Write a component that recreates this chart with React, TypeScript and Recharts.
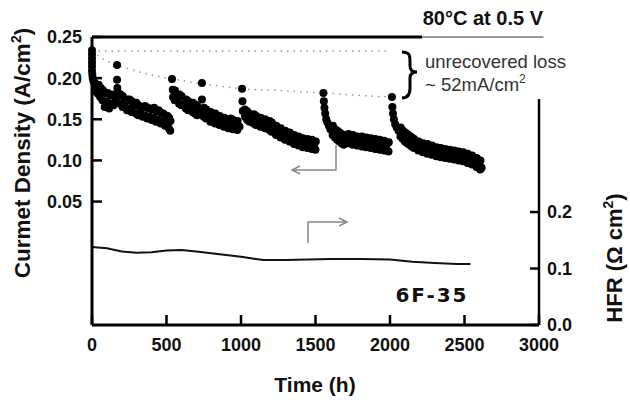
import {
  ComposedChart, Scatter, Line, XAxis, YAxis, ReferenceLine,
} from 'recharts'

// current density (A/cm2) vs time (h), one array per run between recoveries
const seg1: [number, number][] = [
  [0, 0.234], [0, 0.229], [0, 0.224], [0, 0.219], [0, 0.214], [0, 0.209], [2, 0.204], [5, 0.2],
  [10, 0.196], [18, 0.194], [22, 0.184], [32, 0.19], [40, 0.181], [45, 0.192], [55, 0.177], [60, 0.188],
  [70, 0.173], [75, 0.185], [85, 0.165], [90, 0.182], [100, 0.171], [105, 0.182], [115, 0.163], [120, 0.179],
  [130, 0.169], [135, 0.18], [145, 0.167], [150, 0.178], [160, 0.174],
]
const seg2: [number, number][] = [
  [168, 0.216], [168, 0.198], [170, 0.188], [175, 0.182], [190, 0.169], [192, 0.18], [205, 0.165], [207, 0.178],
  [220, 0.17], [235, 0.161], [237, 0.174], [250, 0.163], [252, 0.174], [265, 0.159], [267, 0.172], [280, 0.166],
  [295, 0.157], [297, 0.17], [310, 0.155], [312, 0.167], [325, 0.162], [340, 0.153], [342, 0.165], [355, 0.155],
  [357, 0.166], [370, 0.151], [372, 0.164], [385, 0.153], [387, 0.163], [400, 0.149], [402, 0.162], [415, 0.152],
  [417, 0.164], [430, 0.147], [432, 0.16], [445, 0.149], [447, 0.161], [460, 0.145], [462, 0.158], [475, 0.147],
  [477, 0.157], [490, 0.142], [492, 0.155], [505, 0.144], [507, 0.154], [515, 0.139], [517, 0.152], [525, 0.136],
  [527, 0.148],
]
const seg3: [number, number][] = [
  [537, 0.199], [542, 0.186], [544, 0.177], [555, 0.173], [557, 0.185], [570, 0.178], [585, 0.169], [587, 0.18],
  [600, 0.167], [602, 0.178], [615, 0.168], [630, 0.163], [632, 0.174], [645, 0.161], [647, 0.172], [660, 0.166],
  [675, 0.159], [677, 0.17], [690, 0.157], [692, 0.168], [705, 0.155], [707, 0.166], [720, 0.16], [738, 0.194],
  [738, 0.174], [740, 0.162], [750, 0.153], [752, 0.164], [765, 0.151], [767, 0.162], [780, 0.156], [795, 0.147],
  [797, 0.159], [810, 0.152], [825, 0.145], [827, 0.157], [840, 0.15], [855, 0.143], [857, 0.154], [870, 0.148],
  [885, 0.141], [887, 0.152], [900, 0.146], [915, 0.139], [917, 0.15], [930, 0.141], [932, 0.151], [945, 0.138],
  [947, 0.149], [960, 0.143], [975, 0.137], [977, 0.148], [990, 0.141],
]
const seg4: [number, number][] = [
  [1007, 0.187], [1010, 0.172], [1012, 0.16], [1025, 0.162], [1027, 0.153], [1040, 0.16], [1042, 0.149],
  [1055, 0.157], [1057, 0.147], [1070, 0.153], [1085, 0.145], [1087, 0.156], [1100, 0.143], [1102, 0.154],
  [1115, 0.15], [1130, 0.141], [1132, 0.152], [1145, 0.146], [1160, 0.139], [1162, 0.15], [1175, 0.144],
  [1190, 0.137], [1192, 0.148], [1205, 0.135], [1207, 0.146], [1220, 0.14], [1235, 0.131], [1237, 0.142],
  [1250, 0.136], [1265, 0.128], [1267, 0.139], [1280, 0.133], [1295, 0.125], [1297, 0.136], [1310, 0.13],
  [1325, 0.123], [1327, 0.134], [1340, 0.128], [1355, 0.12], [1357, 0.131], [1370, 0.125], [1385, 0.118],
  [1387, 0.129], [1400, 0.123], [1415, 0.116], [1417, 0.127], [1430, 0.121], [1445, 0.115], [1447, 0.126],
  [1460, 0.12], [1475, 0.114], [1477, 0.125], [1490, 0.119], [1500, 0.113], [1502, 0.123],
]
const seg5: [number, number][] = [
  [1553, 0.182], [1556, 0.172], [1560, 0.164], [1565, 0.157], [1572, 0.15], [1580, 0.146], [1590, 0.142],
  [1600, 0.138], [1615, 0.131], [1617, 0.142], [1630, 0.128], [1632, 0.138], [1645, 0.125], [1647, 0.136],
  [1660, 0.123], [1662, 0.134], [1675, 0.121], [1677, 0.132], [1690, 0.119], [1692, 0.13], [1705, 0.125],
  [1720, 0.121], [1722, 0.132], [1735, 0.126], [1750, 0.119], [1752, 0.131], [1765, 0.125], [1780, 0.118],
  [1782, 0.129], [1795, 0.124], [1810, 0.117], [1812, 0.129], [1825, 0.123], [1840, 0.116], [1842, 0.128],
  [1855, 0.122], [1870, 0.115], [1872, 0.127], [1885, 0.121], [1900, 0.114], [1902, 0.126], [1915, 0.12],
  [1930, 0.113], [1932, 0.125], [1945, 0.119], [1960, 0.112], [1962, 0.124], [1975, 0.118], [1990, 0.111],
  [1992, 0.122],
]
const seg6: [number, number][] = [
  [2013, 0.177], [2016, 0.165], [2020, 0.157], [2026, 0.15], [2035, 0.144], [2045, 0.14], [2058, 0.136],
  [2070, 0.129], [2072, 0.14], [2085, 0.126], [2087, 0.136], [2100, 0.123], [2102, 0.134], [2115, 0.121],
  [2117, 0.132], [2130, 0.119], [2132, 0.13], [2145, 0.117], [2147, 0.128], [2160, 0.115], [2162, 0.126],
  [2175, 0.12], [2190, 0.112], [2192, 0.123], [2205, 0.117], [2220, 0.11], [2222, 0.121], [2235, 0.115],
  [2250, 0.108], [2252, 0.12], [2265, 0.114], [2280, 0.107], [2282, 0.118], [2295, 0.112], [2310, 0.105],
  [2312, 0.116], [2325, 0.111], [2340, 0.104], [2342, 0.115], [2355, 0.11], [2370, 0.103], [2372, 0.114],
  [2385, 0.109], [2400, 0.102], [2402, 0.113], [2415, 0.108], [2430, 0.101], [2432, 0.112], [2445, 0.107],
  [2460, 0.1], [2462, 0.111], [2475, 0.106], [2490, 0.099], [2492, 0.11], [2505, 0.105], [2520, 0.097],
  [2522, 0.108], [2535, 0.103], [2550, 0.095], [2552, 0.106], [2565, 0.1], [2580, 0.092], [2582, 0.103],
  [2595, 0.097], [2605, 0.089], [2607, 0.1], [2615, 0.091],
]

// HFR (ohm cm2) vs time
const hfr: [number, number][] = [
  [0, 0.138], [100, 0.136], [200, 0.13], [300, 0.128], [400, 0.129], [500, 0.132], [600, 0.133],
  [700, 0.13], [800, 0.127], [900, 0.124], [1000, 0.121], [1100, 0.117], [1150, 0.115], [1300, 0.115],
  [1450, 0.116], [1600, 0.117], [1800, 0.117], [2000, 0.116], [2150, 0.112], [2300, 0.11], [2450, 0.108],
  [2540, 0.108],
]

// dotted guides: initial level and recovered peaks
const initialLevel: [number, number][] = [[0, 0.233], [2000, 0.233]]
const recoveredPeaks: [number, number][] = [
  [0, 0.233], [50, 0.226], [100, 0.221], [168, 0.216], [250, 0.211], [350, 0.206], [450, 0.202],
  [537, 0.199], [640, 0.196], [738, 0.193], [870, 0.19], [1007, 0.187], [1250, 0.185], [1557, 0.182],
  [1800, 0.179], [2013, 0.177],
]

const timeTicks = [0, 500, 1000, 1500, 2000, 2500, 3000]
const currentTicks = [0.05, 0.1, 0.15, 0.2, 0.25]
const hfrTicks = [0, 0.1, 0.2]

const pts = (arr: [number, number][]) => arr.map(([t, v]) => ({ t, v }))
const current = pts([...seg1, ...seg2, ...seg3, ...seg4, ...seg5, ...seg6])

const FONT = 'Liberation Sans, Arial, sans-serif'
const tickStyle = { fontSize: 18, fontWeight: 700, fill: '#111', fontFamily: FONT }

const Dot = (p: any) => <circle cx={p.cx} cy={p.cy} r={4} fill="#000" />

export default function App() {
  return (
    <div style={{ position: 'absolute', left: 0, top: 0, width: 630, height: 400, background: '#fff' }}>
      <ComposedChart width={630} height={400} margin={{ top: 37, right: 0, bottom: 0, left: 0 }}>
        <XAxis
          dataKey="t" type="number" domain={[0, 3000]} ticks={timeTicks} interval={0}
          height={75} tickSize={-10} tickMargin={23} tick={tickStyle}
          axisLine={{ stroke: '#000', strokeWidth: 3 }} tickLine={{ stroke: '#000', strokeWidth: 2.5 }}
        />
        <YAxis
          yAxisId="left" type="number" domain={[-0.1, 0.25]} ticks={currentTicks} interval={0}
          width={92} tickSize={-10} tickMargin={20} tick={tickStyle}
          tickFormatter={(v: number) => v.toFixed(2)}
          axisLine={{ stroke: '#000', strokeWidth: 3 }} tickLine={{ stroke: '#000', strokeWidth: 2.5 }}
        />
        <YAxis
          yAxisId="right" orientation="right" type="number" domain={[0, 0.51]} ticks={hfrTicks} interval={0}
          width={91} tickSize={-9} tickMargin={17} tick={tickStyle} axisLine={false}
          tickFormatter={(v: number) => v.toFixed(1)}
          tickLine={{ stroke: '#000', strokeWidth: 2.5 }}
        />
        <ReferenceLine yAxisId="right" segment={[{ x: 3000, y: 0 }, { x: 3000, y: 0.4 }]} stroke="#000" strokeWidth={2.5} ifOverflow="visible" />
        <ReferenceLine yAxisId="left" segment={[{ x: 0, y: 0.25 }, { x: 2215, y: 0.25 }]} stroke="#000" strokeWidth={3} ifOverflow="visible" />
        <ReferenceLine yAxisId="left" segment={[{ x: 2215, y: 0.25 }, { x: 3030, y: 0.25 }]} stroke="#777" strokeWidth={1.5} ifOverflow="visible" />
        <Line yAxisId="left" data={pts(initialLevel)} dataKey="v" stroke="#999" strokeWidth={1.5} strokeDasharray="1.5 5" dot={false} isAnimationActive={false} />
        <Line yAxisId="left" data={pts(recoveredPeaks)} dataKey="v" type="monotone" stroke="#999" strokeWidth={1.5} strokeDasharray="1.5 5" dot={false} isAnimationActive={false} />
        <Scatter yAxisId="left" data={current} dataKey="v" shape={Dot} isAnimationActive={false} />
        <Line yAxisId="right" data={pts(hfr)} dataKey="v" stroke="#111" strokeWidth={2} dot={false} isAnimationActive={false} />
      </ComposedChart>
      <svg width={630} height={400} style={{ position: 'absolute', left: 0, top: 0, pointerEvents: 'none' }} fontFamily={FONT}>
        <text x={543} y={25} textAnchor="end" fontSize={20} fontWeight={700} fill="#111">80°C at 0.5 V</text>
        <path d="M402,52 C410,52 410,56 410,62 L410,66 C410,70 412,72 417,72 C412,72 410,74 410,78 L410,88 C410,94 408,98 402,98" stroke="#000" strokeWidth={3} fill="none" />
        <text x={425} y={68} fontSize={18.5} fill="#333">unrecovered loss</text>
        <text x={425} y={91} fontSize={18.5} fill="#333">~ 52mA/cm<tspan dy={-8} fontSize={12}>2</tspan></text>
        <polyline points="336,145 336,170 292,170" stroke="#888" strokeWidth={1.5} fill="none" />
        <polyline points="300,166 292,170 300,174" stroke="#888" strokeWidth={1.5} fill="none" />
        <polyline points="308,243 308,222 347,222" stroke="#888" strokeWidth={1.5} fill="none" />
        <polyline points="339,218 347,222 339,226" stroke="#888" strokeWidth={1.5} fill="none" />
        <text x={432} y={302} textAnchor="middle" fontSize={20} fontWeight={700} fill="#111" fontFamily="DejaVu Sans" letterSpacing={2}>6F-35</text>
        <text x={315} y={392} textAnchor="middle" fontSize={21} fontWeight={700} fill="#111">Time (h)</text>
        <text transform="rotate(-90)" x={-153} y={30} textAnchor="middle" fontSize={22.5} fontWeight={700} fill="#111">
          Curmet Density (A/cm<tspan dy={-9} fontSize={14}>2</tspan><tspan dy={9}>)</tspan>
        </text>
        <text transform="rotate(-90)" x={-258} y={622} textAnchor="middle" fontSize={22} fontWeight={700} fill="#111">
          HFR (Ω cm<tspan dy={-9} fontSize={14}>2</tspan><tspan dy={9}>)</tspan>
        </text>
      </svg>
    </div>
  )
}
